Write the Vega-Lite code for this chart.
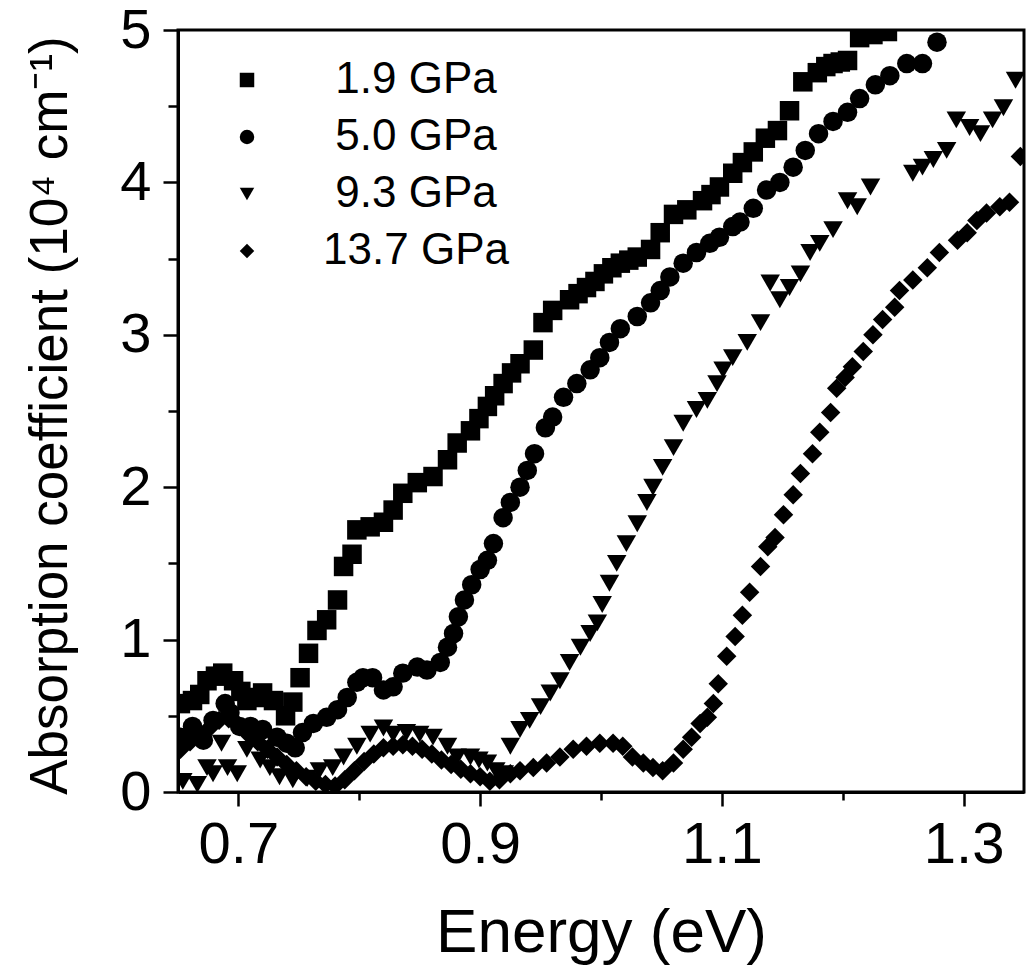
{
  "$schema": "https://vega.github.io/schema/vega-lite/v6.json",
  "width": 846,
  "height": 762,
  "autosize": {"type": "none"},
  "padding": {"left": 178, "top": 30, "right": 4, "bottom": 180},
  "background": "white",
  "config": {
    "view": {"stroke": "black", "strokeWidth": 3},
    "font": "Liberation Sans"
  },
  "data": {"values": [
    {"s":"1.9 GPa","e":0.652,"a":0.58},{"s":"1.9 GPa","e":0.662,"a":0.60},{"s":"1.9 GPa","e":0.668,"a":0.64},{"s":"1.9 GPa","e":0.674,"a":0.73},{"s":"1.9 GPa","e":0.681,"a":0.76},{"s":"1.9 GPa","e":0.687,"a":0.78},{"s":"1.9 GPa","e":0.696,"a":0.73},{"s":"1.9 GPa","e":0.702,"a":0.66},{"s":"1.9 GPa","e":0.707,"a":0.60},{"s":"1.9 GPa","e":0.714,"a":0.62},{"s":"1.9 GPa","e":0.720,"a":0.65},{"s":"1.9 GPa","e":0.729,"a":0.60},{"s":"1.9 GPa","e":0.739,"a":0.50},{"s":"1.9 GPa","e":0.745,"a":0.59},{"s":"1.9 GPa","e":0.751,"a":0.75},{"s":"1.9 GPa","e":0.758,"a":0.91},{"s":"1.9 GPa","e":0.765,"a":1.06},{"s":"1.9 GPa","e":0.773,"a":1.13},{"s":"1.9 GPa","e":0.782,"a":1.26},{"s":"1.9 GPa","e":0.787,"a":1.48},{"s":"1.9 GPa","e":0.794,"a":1.56},{"s":"1.9 GPa","e":0.798,"a":1.72},{"s":"1.9 GPa","e":0.809,"a":1.74},{"s":"1.9 GPa","e":0.820,"a":1.77},{"s":"1.9 GPa","e":0.828,"a":1.85},{"s":"1.9 GPa","e":0.836,"a":1.96},{"s":"1.9 GPa","e":0.848,"a":2.03},{"s":"1.9 GPa","e":0.861,"a":2.07},{"s":"1.9 GPa","e":0.873,"a":2.18},{"s":"1.9 GPa","e":0.881,"a":2.29},{"s":"1.9 GPa","e":0.892,"a":2.37},{"s":"1.9 GPa","e":0.899,"a":2.45},{"s":"1.9 GPa","e":0.906,"a":2.53},{"s":"1.9 GPa","e":0.912,"a":2.60},{"s":"1.9 GPa","e":0.919,"a":2.68},{"s":"1.9 GPa","e":0.926,"a":2.75},{"s":"1.9 GPa","e":0.933,"a":2.81},{"s":"1.9 GPa","e":0.944,"a":2.90},{"s":"1.9 GPa","e":0.952,"a":3.08},{"s":"1.9 GPa","e":0.960,"a":3.16},{"s":"1.9 GPa","e":0.974,"a":3.23},{"s":"1.9 GPa","e":0.981,"a":3.27},{"s":"1.9 GPa","e":0.988,"a":3.31},{"s":"1.9 GPa","e":0.995,"a":3.35},{"s":"1.9 GPa","e":1.002,"a":3.40},{"s":"1.9 GPa","e":1.009,"a":3.44},{"s":"1.9 GPa","e":1.016,"a":3.47},{"s":"1.9 GPa","e":1.023,"a":3.49},{"s":"1.9 GPa","e":1.030,"a":3.51},{"s":"1.9 GPa","e":1.041,"a":3.56},{"s":"1.9 GPa","e":1.049,"a":3.67},{"s":"1.9 GPa","e":1.060,"a":3.79},{"s":"1.9 GPa","e":1.071,"a":3.82},{"s":"1.9 GPa","e":1.084,"a":3.88},{"s":"1.9 GPa","e":1.091,"a":3.92},{"s":"1.9 GPa","e":1.098,"a":3.97},{"s":"1.9 GPa","e":1.109,"a":4.06},{"s":"1.9 GPa","e":1.117,"a":4.13},{"s":"1.9 GPa","e":1.126,"a":4.20},{"s":"1.9 GPa","e":1.136,"a":4.29},{"s":"1.9 GPa","e":1.146,"a":4.34},{"s":"1.9 GPa","e":1.156,"a":4.47},{"s":"1.9 GPa","e":1.167,"a":4.66},{"s":"1.9 GPa","e":1.179,"a":4.72},{"s":"1.9 GPa","e":1.186,"a":4.76},{"s":"1.9 GPa","e":1.192,"a":4.78},{"s":"1.9 GPa","e":1.198,"a":4.79},{"s":"1.9 GPa","e":1.204,"a":4.80},{"s":"1.9 GPa","e":1.214,"a":4.95},{"s":"1.9 GPa","e":1.225,"a":4.97},{"s":"1.9 GPa","e":1.237,"a":4.99},

    {"s":"5.0 GPa","e":0.652,"a":0.36},{"s":"5.0 GPa","e":0.662,"a":0.43},{"s":"5.0 GPa","e":0.671,"a":0.34},{"s":"5.0 GPa","e":0.679,"a":0.47},{"s":"5.0 GPa","e":0.689,"a":0.58},{"s":"5.0 GPa","e":0.693,"a":0.52},{"s":"5.0 GPa","e":0.701,"a":0.43},{"s":"5.0 GPa","e":0.710,"a":0.43},{"s":"5.0 GPa","e":0.720,"a":0.41},{"s":"5.0 GPa","e":0.732,"a":0.36},{"s":"5.0 GPa","e":0.740,"a":0.32},{"s":"5.0 GPa","e":0.747,"a":0.29},{"s":"5.0 GPa","e":0.753,"a":0.39},{"s":"5.0 GPa","e":0.762,"a":0.45},{"s":"5.0 GPa","e":0.773,"a":0.49},{"s":"5.0 GPa","e":0.782,"a":0.54},{"s":"5.0 GPa","e":0.790,"a":0.62},{"s":"5.0 GPa","e":0.798,"a":0.72},{"s":"5.0 GPa","e":0.803,"a":0.75},{"s":"5.0 GPa","e":0.811,"a":0.75},{"s":"5.0 GPa","e":0.820,"a":0.67},{"s":"5.0 GPa","e":0.828,"a":0.69},{"s":"5.0 GPa","e":0.836,"a":0.78},{"s":"5.0 GPa","e":0.848,"a":0.82},{"s":"5.0 GPa","e":0.856,"a":0.80},{"s":"5.0 GPa","e":0.867,"a":0.85},{"s":"5.0 GPa","e":0.873,"a":0.95},{"s":"5.0 GPa","e":0.878,"a":1.04},{"s":"5.0 GPa","e":0.882,"a":1.15},{"s":"5.0 GPa","e":0.887,"a":1.26},{"s":"5.0 GPa","e":0.893,"a":1.36},{"s":"5.0 GPa","e":0.900,"a":1.46},{"s":"5.0 GPa","e":0.906,"a":1.52},{"s":"5.0 GPa","e":0.911,"a":1.63},{"s":"5.0 GPa","e":0.919,"a":1.80},{"s":"5.0 GPa","e":0.925,"a":1.90},{"s":"5.0 GPa","e":0.933,"a":2.00},{"s":"5.0 GPa","e":0.939,"a":2.11},{"s":"5.0 GPa","e":0.945,"a":2.22},{"s":"5.0 GPa","e":0.954,"a":2.39},{"s":"5.0 GPa","e":0.960,"a":2.46},{"s":"5.0 GPa","e":0.969,"a":2.59},{"s":"5.0 GPa","e":0.980,"a":2.68},{"s":"5.0 GPa","e":0.991,"a":2.77},{"s":"5.0 GPa","e":0.999,"a":2.85},{"s":"5.0 GPa","e":1.007,"a":2.95},{"s":"5.0 GPa","e":1.016,"a":3.04},{"s":"5.0 GPa","e":1.030,"a":3.12},{"s":"5.0 GPa","e":1.041,"a":3.21},{"s":"5.0 GPa","e":1.049,"a":3.29},{"s":"5.0 GPa","e":1.057,"a":3.38},{"s":"5.0 GPa","e":1.068,"a":3.47},{"s":"5.0 GPa","e":1.079,"a":3.54},{"s":"5.0 GPa","e":1.090,"a":3.60},{"s":"5.0 GPa","e":1.098,"a":3.64},{"s":"5.0 GPa","e":1.109,"a":3.71},{"s":"5.0 GPa","e":1.115,"a":3.74},{"s":"5.0 GPa","e":1.126,"a":3.83},{"s":"5.0 GPa","e":1.137,"a":3.95},{"s":"5.0 GPa","e":1.148,"a":4.00},{"s":"5.0 GPa","e":1.159,"a":4.10},{"s":"5.0 GPa","e":1.169,"a":4.21},{"s":"5.0 GPa","e":1.180,"a":4.32},{"s":"5.0 GPa","e":1.192,"a":4.40},{"s":"5.0 GPa","e":1.204,"a":4.46},{"s":"5.0 GPa","e":1.214,"a":4.55},{"s":"5.0 GPa","e":1.227,"a":4.64},{"s":"5.0 GPa","e":1.239,"a":4.70},{"s":"5.0 GPa","e":1.253,"a":4.78},{"s":"5.0 GPa","e":1.266,"a":4.78},{"s":"5.0 GPa","e":1.278,"a":4.92},

    {"s":"9.3 GPa","e":0.654,"a":0.07},{"s":"9.3 GPa","e":0.666,"a":0.05},{"s":"9.3 GPa","e":0.674,"a":0.16},{"s":"9.3 GPa","e":0.679,"a":0.12},{"s":"9.3 GPa","e":0.686,"a":0.32},{"s":"9.3 GPa","e":0.691,"a":0.16},{"s":"9.3 GPa","e":0.699,"a":0.12},{"s":"9.3 GPa","e":0.707,"a":0.28},{"s":"9.3 GPa","e":0.718,"a":0.21},{"s":"9.3 GPa","e":0.726,"a":0.16},{"s":"9.3 GPa","e":0.734,"a":0.10},{"s":"9.3 GPa","e":0.745,"a":0.08},{"s":"9.3 GPa","e":0.757,"a":0.09},{"s":"9.3 GPa","e":0.767,"a":0.14},{"s":"9.3 GPa","e":0.778,"a":0.16},{"s":"9.3 GPa","e":0.787,"a":0.23},{"s":"9.3 GPa","e":0.798,"a":0.30},{"s":"9.3 GPa","e":0.809,"a":0.38},{"s":"9.3 GPa","e":0.820,"a":0.42},{"s":"9.3 GPa","e":0.828,"a":0.38},{"s":"9.3 GPa","e":0.839,"a":0.39},{"s":"9.3 GPa","e":0.850,"a":0.38},{"s":"9.3 GPa","e":0.861,"a":0.36},{"s":"9.3 GPa","e":0.873,"a":0.30},{"s":"9.3 GPa","e":0.881,"a":0.23},{"s":"9.3 GPa","e":0.892,"a":0.23},{"s":"9.3 GPa","e":0.899,"a":0.21},{"s":"9.3 GPa","e":0.906,"a":0.19},{"s":"9.3 GPa","e":0.913,"a":0.14},{"s":"9.3 GPa","e":0.920,"a":0.12},{"s":"9.3 GPa","e":0.925,"a":0.30},{"s":"9.3 GPa","e":0.933,"a":0.41},{"s":"9.3 GPa","e":0.941,"a":0.47},{"s":"9.3 GPa","e":0.950,"a":0.56},{"s":"9.3 GPa","e":0.958,"a":0.65},{"s":"9.3 GPa","e":0.966,"a":0.73},{"s":"9.3 GPa","e":0.974,"a":0.85},{"s":"9.3 GPa","e":0.983,"a":0.95},{"s":"9.3 GPa","e":0.991,"a":1.04},{"s":"9.3 GPa","e":0.997,"a":1.11},{"s":"9.3 GPa","e":1.001,"a":1.23},{"s":"9.3 GPa","e":1.007,"a":1.37},{"s":"9.3 GPa","e":1.013,"a":1.50},{"s":"9.3 GPa","e":1.021,"a":1.63},{"s":"9.3 GPa","e":1.030,"a":1.76},{"s":"9.3 GPa","e":1.038,"a":1.90},{"s":"9.3 GPa","e":1.043,"a":2.00},{"s":"9.3 GPa","e":1.051,"a":2.13},{"s":"9.3 GPa","e":1.060,"a":2.26},{"s":"9.3 GPa","e":1.068,"a":2.42},{"s":"9.3 GPa","e":1.079,"a":2.51},{"s":"9.3 GPa","e":1.088,"a":2.57},{"s":"9.3 GPa","e":1.096,"a":2.68},{"s":"9.3 GPa","e":1.101,"a":2.77},{"s":"9.3 GPa","e":1.109,"a":2.85},{"s":"9.3 GPa","e":1.121,"a":2.95},{"s":"9.3 GPa","e":1.132,"a":3.08},{"s":"9.3 GPa","e":1.140,"a":3.34},{"s":"9.3 GPa","e":1.148,"a":3.23},{"s":"9.3 GPa","e":1.156,"a":3.31},{"s":"9.3 GPa","e":1.165,"a":3.40},{"s":"9.3 GPa","e":1.173,"a":3.54},{"s":"9.3 GPa","e":1.181,"a":3.60},{"s":"9.3 GPa","e":1.192,"a":3.69},{"s":"9.3 GPa","e":1.204,"a":3.88},{"s":"9.3 GPa","e":1.212,"a":3.84},{"s":"9.3 GPa","e":1.223,"a":3.97},{"s":"9.3 GPa","e":1.258,"a":4.06},{"s":"9.3 GPa","e":1.266,"a":4.10},{"s":"9.3 GPa","e":1.275,"a":4.15},{"s":"9.3 GPa","e":1.286,"a":4.21},{"s":"9.3 GPa","e":1.294,"a":4.41},{"s":"9.3 GPa","e":1.305,"a":4.36},{"s":"9.3 GPa","e":1.314,"a":4.32},{"s":"9.3 GPa","e":1.324,"a":4.41},{"s":"9.3 GPa","e":1.333,"a":4.49},{"s":"9.3 GPa","e":1.343,"a":4.67},

    {"s":"13.7 GPa","e":0.652,"a":0.28},{"s":"13.7 GPa","e":0.660,"a":0.33},{"s":"13.7 GPa","e":0.668,"a":0.38},{"s":"13.7 GPa","e":0.676,"a":0.42},{"s":"13.7 GPa","e":0.684,"a":0.47},{"s":"13.7 GPa","e":0.692,"a":0.48},{"s":"13.7 GPa","e":0.700,"a":0.44},{"s":"13.7 GPa","e":0.708,"a":0.38},{"s":"13.7 GPa","e":0.716,"a":0.33},{"s":"13.7 GPa","e":0.724,"a":0.28},{"s":"13.7 GPa","e":0.732,"a":0.23},{"s":"13.7 GPa","e":0.740,"a":0.18},{"s":"13.7 GPa","e":0.748,"a":0.14},{"s":"13.7 GPa","e":0.756,"a":0.10},{"s":"13.7 GPa","e":0.764,"a":0.07},{"s":"13.7 GPa","e":0.772,"a":0.05},{"s":"13.7 GPa","e":0.780,"a":0.04},{"s":"13.7 GPa","e":0.788,"a":0.08},{"s":"13.7 GPa","e":0.796,"a":0.14},{"s":"13.7 GPa","e":0.804,"a":0.20},{"s":"13.7 GPa","e":0.812,"a":0.25},{"s":"13.7 GPa","e":0.820,"a":0.29},{"s":"13.7 GPa","e":0.828,"a":0.30},{"s":"13.7 GPa","e":0.836,"a":0.31},{"s":"13.7 GPa","e":0.844,"a":0.30},{"s":"13.7 GPa","e":0.852,"a":0.28},{"s":"13.7 GPa","e":0.860,"a":0.25},{"s":"13.7 GPa","e":0.868,"a":0.21},{"s":"13.7 GPa","e":0.876,"a":0.18},{"s":"13.7 GPa","e":0.884,"a":0.15},{"s":"13.7 GPa","e":0.892,"a":0.12},{"s":"13.7 GPa","e":0.900,"a":0.10},{"s":"13.7 GPa","e":0.908,"a":0.07},{"s":"13.7 GPa","e":0.916,"a":0.08},{"s":"13.7 GPa","e":0.925,"a":0.12},{"s":"13.7 GPa","e":0.933,"a":0.14},{"s":"13.7 GPa","e":0.944,"a":0.16},{"s":"13.7 GPa","e":0.955,"a":0.19},{"s":"13.7 GPa","e":0.966,"a":0.23},{"s":"13.7 GPa","e":0.977,"a":0.28},{"s":"13.7 GPa","e":0.988,"a":0.30},{"s":"13.7 GPa","e":0.999,"a":0.32},{"s":"13.7 GPa","e":1.010,"a":0.32},{"s":"13.7 GPa","e":1.018,"a":0.30},{"s":"13.7 GPa","e":1.026,"a":0.23},{"s":"13.7 GPa","e":1.035,"a":0.19},{"s":"13.7 GPa","e":1.043,"a":0.16},{"s":"13.7 GPa","e":1.051,"a":0.14},{"s":"13.7 GPa","e":1.060,"a":0.19},{"s":"13.7 GPa","e":1.068,"a":0.28},{"s":"13.7 GPa","e":1.075,"a":0.36},{"s":"13.7 GPa","e":1.082,"a":0.45},{"s":"13.7 GPa","e":1.088,"a":0.49},{"s":"13.7 GPa","e":1.093,"a":0.58},{"s":"13.7 GPa","e":1.097,"a":0.71},{"s":"13.7 GPa","e":1.104,"a":0.89},{"s":"13.7 GPa","e":1.111,"a":1.02},{"s":"13.7 GPa","e":1.117,"a":1.16},{"s":"13.7 GPa","e":1.123,"a":1.31},{"s":"13.7 GPa","e":1.132,"a":1.48},{"s":"13.7 GPa","e":1.138,"a":1.61},{"s":"13.7 GPa","e":1.144,"a":1.67},{"s":"13.7 GPa","e":1.151,"a":1.82},{"s":"13.7 GPa","e":1.159,"a":1.95},{"s":"13.7 GPa","e":1.165,"a":2.09},{"s":"13.7 GPa","e":1.175,"a":2.22},{"s":"13.7 GPa","e":1.181,"a":2.36},{"s":"13.7 GPa","e":1.190,"a":2.49},{"s":"13.7 GPa","e":1.195,"a":2.65},{"s":"13.7 GPa","e":1.202,"a":2.72},{"s":"13.7 GPa","e":1.208,"a":2.79},{"s":"13.7 GPa","e":1.217,"a":2.89},{"s":"13.7 GPa","e":1.225,"a":3.00},{"s":"13.7 GPa","e":1.233,"a":3.10},{"s":"13.7 GPa","e":1.243,"a":3.18},{"s":"13.7 GPa","e":1.247,"a":3.29},{"s":"13.7 GPa","e":1.258,"a":3.36},{"s":"13.7 GPa","e":1.270,"a":3.44},{"s":"13.7 GPa","e":1.280,"a":3.54},{"s":"13.7 GPa","e":1.295,"a":3.62},{"s":"13.7 GPa","e":1.303,"a":3.67},{"s":"13.7 GPa","e":1.311,"a":3.75},{"s":"13.7 GPa","e":1.319,"a":3.80},{"s":"13.7 GPa","e":1.330,"a":3.84},{"s":"13.7 GPa","e":1.338,"a":3.87},{"s":"13.7 GPa","e":1.347,"a":4.17}
  ]},
  "mark": {"type": "point", "filled": true, "color": "black", "opacity": 1, "clip": true, "size": 380},
  "encoding": {
    "x": {
      "field": "e", "type": "quantitative",
      "scale": {"domain": [0.65, 1.35], "nice": false, "zero": false},
      "axis": {
        "values": [0.7, 0.8, 0.9, 1.0, 1.1, 1.2, 1.3],
        "labelExpr": "round(datum.value*10) % 2 == 1 ? format(datum.value, '.1f') : ''",
        "grid": false,
        "domainColor": "black", "domainWidth": 3,
        "tickColor": "black", "tickWidth": 2.5,
        "tickSize": {"condition": {"test": "round(datum.value*10) % 2 == 1", "value": 14}, "value": 8},
        "labelFontSize": 58, "labelColor": "black", "labelFont": "Liberation Sans",
        "labelPadding": 10, "labelFlush": false, "labelOverlap": false,
        "title": "Energy (eV)", "titleFontSize": 62, "titleFontWeight": "normal",
        "titleColor": "black", "titleFont": "Liberation Sans",
        "titleX": 423, "titleY": 159, "titleBaseline": "alphabetic", "titleAlign": "center"
      }
    },
    "y": {
      "field": "a", "type": "quantitative",
      "scale": {"domain": [0, 5], "nice": false},
      "axis": {
        "values": [0, 0.5, 1, 1.5, 2, 2.5, 3, 3.5, 4, 4.5, 5],
        "labelExpr": "datum.value % 1 == 0 ? format(datum.value, 'd') : ''",
        "grid": false,
        "domainColor": "black", "domainWidth": 3,
        "tickColor": "black", "tickWidth": 2.5,
        "tickSize": {"condition": {"test": "datum.value % 1 == 0", "value": 15}, "value": 10},
        "labelFontSize": 56, "labelColor": "black", "labelFont": "Liberation Sans",
        "labelPadding": 12, "labelFlush": false, "labelOverlap": false,
        "title": "Absorption coefficient (10⁴ cm⁻¹)", "titleFontSize": 53, "titleFontWeight": "normal",
        "titleColor": "black", "titleFont": "Liberation Sans",
        "titleX": -128, "titleY": 385, "titleAngle": -90, "titleAlign": "center", "titleBaseline": "middle"
      }
    },
    "shape": {
      "field": "s", "type": "nominal",
      "scale": {"domain": ["1.9 GPa", "5.0 GPa", "9.3 GPa", "13.7 GPa"], "range": ["square", "circle", "triangle-down", "diamond"]},
      "legend": {
        "title": null, "orient": "none", "legendX": 47, "legendY": 28,
        "padding": 0, "symbolSize": 210, "symbolFillColor": "black", "symbolStrokeColor": "black",
        "symbolStrokeWidth": 0, "symbolOpacity": 1,
        "labelFontSize": 44, "labelFont": "Liberation Sans", "labelColor": "black",
        "labelAlign": "center", "labelOffset": 147, "rowPadding": 13, "labelLimit": 400
      }
    }
  }
}
